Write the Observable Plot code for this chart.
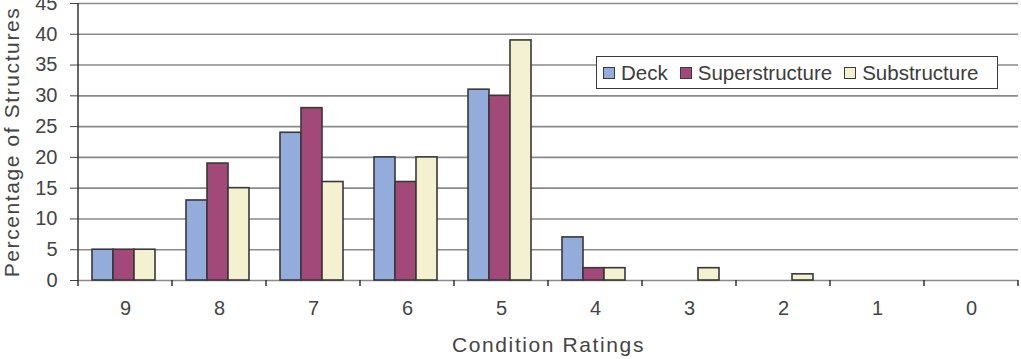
<!DOCTYPE html>
<html>
<head>
<meta charset="utf-8">
<script src="https://cdn.jsdelivr.net/npm/d3@7"></script>
<script src="https://cdn.jsdelivr.net/npm/@observablehq/plot@0.6"></script>
<style>
  body { margin: 0; background: #fff; }
  #wrap { position: relative; width: 1021px; height: 359px; overflow: hidden; font-family: "Liberation Sans", Arial, sans-serif; }
  #legend { position: absolute; left: 596px; top: 56px; width: 400px; height: 31px; border: 1.6px solid #3a3a3a; background: #fff;
            display: flex; align-items: center; font-size: 20.5px; color: #3c3c3c; box-sizing: content-box; }
  .item { display: flex; align-items: center; }
  .sw { width: 10px; height: 10px; border: 1.5px solid #3a3a3a; margin-right: 6px; }
</style>
</head>
<body>
<div id="wrap"></div>
<script>
const ratings = ["9", "8", "7", "6", "5", "4", "3", "2", "1", "0"];
const seriesNames = ["Deck", "Superstructure", "Substructure"];
const seriesColors = ["#93acdb", "#a2497a", "#f3f1d0"];
const deck = [5, 13, 24, 20, 31, 7, 0, 0, 0, 0];
const superstructure = [5, 19, 28, 16, 30, 2, 0, 0, 0, 0];
const substructure = [5, 15, 16, 20, 39, 2, 2, 1, 0, 0];
const yTicks = [0, 5, 10, 15, 20, 25, 30, 35, 40, 45];

const seriesValues = [deck, superstructure, substructure];
const rows = ratings.flatMap((r, i) => seriesNames.map((s, j) => ({rating: r, series: s, value: seriesValues[j][i]})));

const chart = Plot.plot({
  width: 1021, height: 359,
  marginLeft: 76, marginRight: 2, marginTop: 3, marginBottom: 79,
  style: {fontFamily: "Liberation Sans, Arial, sans-serif", fontSize: "20px", color: "#444", background: "#fff"},
  fx: {domain: ratings, padding: 0},
  x: {domain: seriesNames, paddingInner: 0, paddingOuter: 0.673, align: 0.45, axis: null},
  y: {domain: [0, 45]},
  color: {domain: seriesNames, range: seriesColors},
  marks: [
    Plot.gridY({ticks: yTicks, stroke: "#8a8a8a", strokeOpacity: 1, strokeWidth: 1.6}),
    Plot.barY(rows, {fx: "rating", x: "series", y: "value", fill: "series", stroke: "#383838", strokeWidth: 1.6}),
    Plot.axisY({ticks: yTicks, fontSize: 20, tickSize: 8, tickPadding: 13, label: "Percentage of Structures", labelArrow: false, labelAnchor: "center", labelOffset: 74}),
    Plot.axisFx({anchor: "bottom", fontSize: 20, tickSize: 0, tickPadding: 20, label: "Condition Ratings", labelArrow: false, labelAnchor: "center", labelOffset: 71})
  ]
});

document.getElementById("wrap").appendChild(chart);

// category boundary ticks and y-axis line, positioned with Plot's own scales
const svg = d3.select(chart);
const fx = chart.scale("fx"), y = chart.scale("y");
const y0 = y.apply(0), yTop = y.apply(45);
const edges = ratings.map(r => fx.apply(r)).concat([fx.apply(ratings[ratings.length - 1]) + fx.bandwidth]);
svg.append("g").attr("stroke", "#333").attr("stroke-width", 1.5)
  .selectAll("line").data(edges).join("line")
  .attr("x1", d => d).attr("x2", d => d).attr("y1", y0).attr("y2", y0 + 6);
svg.append("line").attr("stroke", "#333").attr("stroke-width", 1.5)
  .attr("x1", edges[0]).attr("x2", edges[0]).attr("y1", yTop).attr("y2", y0);
svg.selectAll('[aria-label$="tick label"]').style("font-size", "20px");
svg.selectAll('[aria-label$="tick label"] text').style("font-size", "20px");
svg.selectAll('[aria-label$="axis label"] text').style("font-size", "21px").attr("letter-spacing", "1.6px");

// legend
const legend = d3.select("#wrap").append("div").attr("id", "legend");
const items = legend.selectAll(".item").data(seriesNames).join("div").attr("class", "item")
  .style("margin-left", (d, i) => i === 0 ? "6px" : "12px");
items.append("div").attr("class", "sw").style("background", (d, i) => seriesColors[i]);
items.append("span").text(d => d);
</script>
</body>
</html>
